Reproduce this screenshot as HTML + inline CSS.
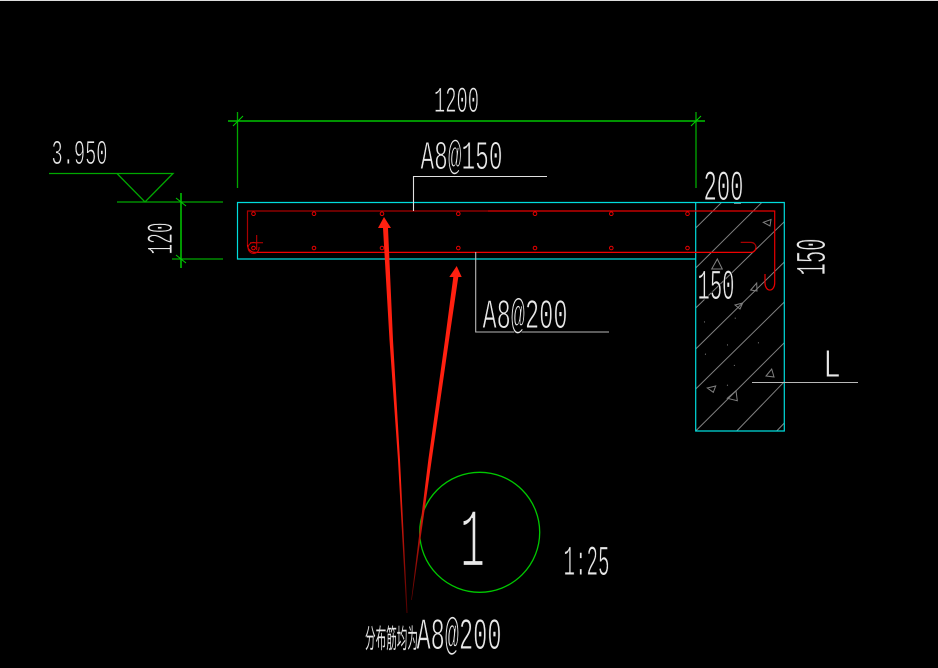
<!DOCTYPE html>
<html><head><meta charset="utf-8"><style>
html,body{margin:0;padding:0;background:#000;width:938px;height:668px;overflow:hidden}
svg{display:block}
text{font-family:"Liberation Mono","Noto Sans CJK SC",monospace;fill:#e8e8e8;stroke:#000;stroke-width:.9px;text-rendering:geometricPrecision}
</style></head><body>
<svg width="938" height="668" viewBox="0 0 938 668" xmlns="http://www.w3.org/2000/svg">
<defs>
<linearGradient id="a" gradientUnits="userSpaceOnUse" x1="0" y1="480" x2="0" y2="613"><stop offset="0" stop-color="#ff2010"/><stop offset="1" stop-color="#500000"/></linearGradient>
</defs>
<rect width="938" height="668" fill="#000"/>
<rect width="938" height="1" fill="#ddd"/>
<!-- hatch -->
<g stroke="#808080" stroke-width="1" fill="none">
<path d="M695.7 228L721.7 202.3M695.7 268L762 202.3M695.7 308L784.3 221.7M695.7 349L784.3 262M695.7 389L784.3 302M695.7 431L784.3 342.7M736.7 431L784.3 381.7M776.7 431L784.3 423"/>
<path d="M763.3 222.3L771 219.5L770 226ZM711.7 269L717.3 259L722.3 269ZM750.7 290L756.7 283L757 291ZM735 305L742.7 303L740 309ZM766 376L771.7 369L774 377ZM707.3 388L715.7 386L713.3 392.3ZM727.3 398.3L736 390.7L737.3 400.7ZM734 203.5H741"/>
<path stroke-dasharray="1 30" d="M704 322L745 317M727 345L770 342M705 354L736 366M727 385L747 394"/>
</g>
<!-- cyan -->
<g stroke="#00dcdc" stroke-width="1.2" fill="none">
<path d="M695.7 259H237.5V202.5H784.3V431H695.7V202.5"/>
</g>
<!-- red -->
<g stroke="#e80000" stroke-width="1.2" fill="none">
<path d="M488 211H774.7V283A4.8 7 0 0 1 765 283V274" />
<path stroke="#a80000" d="M488 211H247.5V245"/>
<path stroke="#f00000" d="M247.5 245A7.5 7.5 0 0 0 255 252.4H751A5 5 0 0 0 756 247.4"/>
<path stroke="#a80000" d="M756 247.4A5 5 0 0 0 751 242.4H740.7"/>
<path stroke="#c80000" d="M250 242.7H263M256.7 235V250" stroke-width="1"/>
<path stroke="#c80000" d="M256 243A5.5 5.5 0 1 0 259 247" stroke-width="1"/>
<g stroke-width="1">
<circle cx="253.5" cy="213.7" r="1.8"/><circle cx="314" cy="213.7" r="1.8"/><circle cx="382" cy="213.7" r="1.8"/><circle cx="458.3" cy="213.7" r="1.8"/><circle cx="535" cy="213.7" r="1.8"/><circle cx="611.3" cy="213.7" r="1.8"/><circle cx="687.5" cy="213.7" r="1.8"/>
<circle cx="253.5" cy="248" r="1.8"/><circle cx="314" cy="248" r="1.8"/><circle cx="382" cy="248" r="1.8"/><circle cx="458.3" cy="248" r="1.8"/><circle cx="535" cy="248" r="1.8"/><circle cx="611.3" cy="248" r="1.8"/><circle cx="687.5" cy="248" r="1.8"/>
</g>
</g>
<!-- green -->
<g stroke="#00a800" fill="none">
<path stroke-width="1.8" d="M228 121H705M181 193V268"/>
<path stroke-width="1.3" d="M237.5 112V188M696 112V188M49 173.5H173L145 202L117 173.5M117 202H223M172 259H223"/>
<path stroke="#00d000" stroke-width="1" d="M233 126L243 116M691 126L701 116M176 198L186 206M176 255L186 263"/>
<circle cx="479.7" cy="532.3" r="60" stroke="#00c800" stroke-width="1.3"/>
</g>
<!-- leaders -->
<g fill="none" stroke-width="1.1">
<path d="M547 176.5H413.5V211" stroke="#e0e0e0"/>
<path d="M475.7 252V332H609M752 382.5H858" stroke="#b8b8b8"/>
</g>
<!-- arrows -->
<path d="M384 217L391 228L388 228L393 340L400 460L407.5 613L406.5 613L398 460L389.5 340L383 228L378 228Z" fill="url(#a)"/>
<path d="M456.7 266L461.7 277L458.3 277L449 340L431.7 460L411.8 600L411.2 600L428.3 460L445 340L453.3 277L449.3 277Z" fill="url(#a)"/>
<!-- labels -->
<text x="434" y="112" font-size="37" textLength="45" lengthAdjust="spacingAndGlyphs">1200</text>
<text x="51.5" y="164" font-size="35" textLength="56" lengthAdjust="spacingAndGlyphs">3.950</text>
<text transform="translate(172 254.5) rotate(-90)" font-size="37" textLength="32" lengthAdjust="spacingAndGlyphs">120</text>
<text x="703.5" y="200" font-size="43" textLength="40" lengthAdjust="spacingAndGlyphs">200</text>
<text x="697.5" y="299" font-size="43" textLength="37" lengthAdjust="spacingAndGlyphs">150</text>
<text transform="translate(825 275.5) rotate(-90)" font-size="43" textLength="37" lengthAdjust="spacingAndGlyphs">150</text>
<text x="420.5" y="169" font-size="41" textLength="82" lengthAdjust="spacingAndGlyphs">A8@150</text>
<text x="482.5" y="328" font-size="42" textLength="85" lengthAdjust="spacingAndGlyphs">A8@200</text>
<text x="823" y="377" font-size="41" textLength="18" lengthAdjust="spacingAndGlyphs">L</text>
<text x="460" y="566" font-size="84" textLength="25" lengthAdjust="spacingAndGlyphs" style="stroke-width:2.2px">1</text>
<text x="563.5" y="575" font-size="43" textLength="46" lengthAdjust="spacingAndGlyphs">1:25</text>
<text x="365" y="648" font-size="27" textLength="53" lengthAdjust="spacingAndGlyphs" style="stroke-width:.1px;font-family:'Noto Sans CJK SC',sans-serif">分布筋均为</text>
<text x="416.5" y="649" font-size="45" textLength="85" lengthAdjust="spacingAndGlyphs">A8@200</text>
</svg>
</body></html>
